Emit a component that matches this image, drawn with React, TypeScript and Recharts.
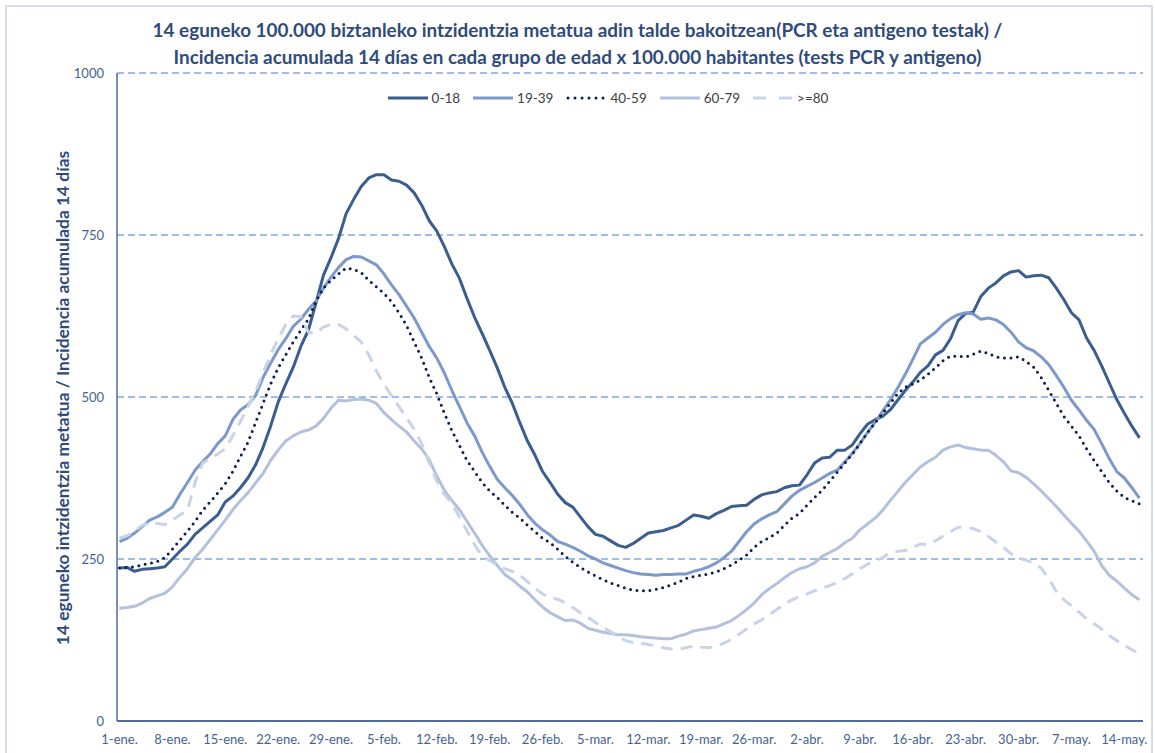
import React from "react";
import { LineChart, Line, XAxis, YAxis, CartesianGrid } from "recharts";

// daily 14-day incidence per 100.000, 1-ene. .. 16-may. (136 days)
const TICK_DAYS = [0, 7, 14, 21, 28, 35, 42, 49, 56, 63, 70, 77, 84, 91, 98, 105, 112, 119, 126, 133];
const TICK_LABELS = [
  "1-ene.", "8-ene.", "15-ene.", "22-ene.", "29-ene.", "5-feb.", "12-feb.", "19-feb.", "26-feb.", "5-mar.",
  "12-mar.", "19-mar.", "26-mar.", "2-abr.", "9-abr.", "16-abr.", "23-abr.", "30-abr.", "7-may.", "14-may.",
];

const AGE_0_18 = [
  236, 237, 231, 234, 235, 236, 238, 250, 262, 273, 288, 298, 308, 318, 338, 347, 360, 375, 395, 422,
  455, 492, 520, 546, 578, 603, 645, 688, 715, 745, 783, 805, 825, 838, 843, 843, 835, 833, 827, 815,
  796, 772, 756, 732, 705, 683, 652, 623, 598, 572, 545, 515, 490, 460, 432, 410, 385, 368, 350, 337,
  330, 315, 300, 288, 285, 278, 271, 268, 274, 282, 290, 292, 294, 298, 302, 310, 318, 316, 313, 320,
  325, 331, 332, 333, 342, 349, 352, 354, 360, 363, 364, 380, 398, 406, 407, 418, 418, 426, 443, 458,
  465, 470, 480, 495, 510, 523, 538, 548, 565, 572, 590, 618, 629, 631, 655, 668, 676, 687, 693, 695,
  685, 687, 688, 684, 668, 650, 630, 619, 591, 572, 548, 522, 496, 475, 455, 437,
];

const AGE_19_39 = [
  277, 282, 290, 300, 310, 315, 322, 330, 350, 368, 387, 400, 412, 428, 440, 465, 480, 488, 502, 530,
  552, 573, 590, 609, 620, 635, 648, 668, 685, 700, 712, 717, 716, 710, 704, 690, 673, 658, 640, 622,
  600, 578, 560, 537, 510, 485, 460, 440, 415, 393, 373, 360, 348, 334, 318, 305, 295, 287, 277, 273,
  268, 262, 255, 250, 244, 240, 236, 232, 229, 227, 226, 225, 226, 226, 227, 227, 231, 234, 238, 244,
  252, 262, 277, 292, 304, 312, 318, 323, 335, 347, 356, 362, 368, 375, 382, 387, 400, 413, 428, 445,
  461, 478, 495, 514, 535, 558, 582, 591, 600, 612, 621, 627, 630, 628, 620, 622, 619, 612, 600, 585,
  576, 571, 562, 550, 533, 515, 495, 480, 464, 450, 428, 405, 385, 375, 360, 344,
];

const AGE_40_59 = [
  236, 237, 238, 241, 243, 246, 252, 265, 279, 293, 308, 325, 338, 352, 366, 385, 408, 430, 460, 490,
  520, 545, 565, 585, 603, 620, 648, 668, 680, 690, 699, 697, 692, 680, 670, 660, 647, 630, 610, 585,
  560, 530, 505, 475, 448, 425, 402, 385, 368, 355, 345, 333, 322, 313, 302, 292, 282, 275, 265, 254,
  245, 237, 230, 224, 218, 213, 209, 205, 202, 201, 201, 203, 206, 210, 214, 220, 223, 225, 227, 230,
  235, 241, 248, 256, 268, 277, 283, 290, 302, 313, 320, 333, 345, 356, 370, 384, 398, 412, 428, 445,
  460, 475, 490, 505, 515, 520, 526, 535, 545, 556, 563, 563, 562, 566, 571, 567, 562, 560, 560, 562,
  555, 546, 530, 510, 490, 470, 455, 440, 420, 402, 385, 368, 355, 345, 340, 335,
];

const AGE_60_79 = [
  174, 175, 177, 182, 189, 193, 197, 207, 222, 235, 252, 265, 280, 295, 310, 326, 340, 352, 367, 382,
  402, 418, 432, 440, 446, 449, 455, 467, 483, 495, 494, 496, 497, 495, 490, 476, 465, 455, 446, 432,
  420, 403, 378, 356, 340, 326, 308, 290, 271, 255, 240, 226, 218, 208, 199, 187, 176, 167, 161, 155,
  156, 151, 143, 140, 137, 135, 133, 133, 132, 130, 129, 128, 127, 127, 131, 134, 139, 141, 143, 145,
  150, 155, 163, 172, 182, 195, 204, 212, 221, 229, 235, 238, 244, 254, 260, 266, 275, 282, 295, 304,
  313, 325, 340, 354, 368, 380, 392, 400, 407, 418, 423, 426, 422, 420, 418, 418, 410, 400, 386, 383,
  376, 366, 355, 343, 331, 318, 305, 293, 278, 262, 240, 225, 216, 205, 195, 187,
];

const AGE_80 = [
  282, 286, 293, 302, 306, 305, 303, 310, 318, 325, 368, 398, 405, 412, 420, 440, 462, 485, 508, 537,
  565, 590, 612, 625, 624, 600, 598, 608, 612, 612, 605, 595, 585, 565, 540, 520, 502, 485, 468, 450,
  428, 398, 370, 350, 335, 315, 293, 272, 254, 248, 240, 235, 231, 225, 215, 205, 196, 190, 188, 182,
  175, 167, 160, 152, 144, 138, 130, 124, 121, 120, 118, 116, 113, 111, 111, 113, 116, 114, 113, 116,
  120, 126, 134, 142, 150, 156, 164, 172, 180, 187, 192, 196, 201, 205, 209, 214, 220, 227, 235, 242,
  247, 252, 260, 262, 263, 268, 273, 272, 278, 285, 292, 299, 299, 297, 292, 285, 276, 268, 258, 252,
  248, 244, 236, 220, 200, 187, 178, 168, 158, 150, 142, 132, 124, 117, 110, 104,
];

const SERIES = [
  { key: "a0", name: "0-18", values: AGE_0_18, color: "#3A5F8F", dash: undefined, cap: "butt" },
  { key: "a19", name: "19-39", values: AGE_19_39, color: "#7D99C9", dash: undefined, cap: "butt" },
  { key: "a40", name: "40-59", values: AGE_40_59, color: "#0C1F50", dash: "0 6.5", cap: "round" },
  { key: "a60", name: "60-79", values: AGE_60_79, color: "#B3C1DD", dash: undefined, cap: "butt" },
  { key: "a80", name: ">=80", values: AGE_80, color: "#C9D3E7", dash: "12 8", cap: "butt" },
];

const data = AGE_0_18.map((_, i) => {
  const row: any = { day: i };
  SERIES.forEach((s) => (row[s.key] = s.values[i]));
  return row;
});

const FONT = "Lato, 'Open Sans', sans-serif";
const TITLE_COLOR = "#2F4B7C";

const LegendBox = () => (
  <div
    style={{
      position: "absolute",
      left: 0,
      top: 89,
      width: 1155,
      display: "flex",
      justifyContent: "center",
      fontSize: 13.5,
      color: "#404040",
      paddingLeft: 72,
      boxSizing: "border-box",
    }}
  >
    {SERIES.map((s) => (
      <div key={s.key} style={{ display: "flex", alignItems: "center", marginRight: 12, height: 18 }}>
        <svg width={42} height={10}>
          <line
            x1={s.dash === "0 6.5" ? 3 : 1}
            y1={5}
            x2={41}
            y2={5}
            stroke={s.color}
            strokeWidth={3}
            strokeDasharray={s.dash === "0 6.5" ? "0 7" : s.dash ? "13 13" : undefined}
            strokeLinecap={s.cap as any}
          />
        </svg>
        <span style={{ marginLeft: 3 }}>{s.name}</span>
      </div>
    ))}
  </div>
);

export default function App() {
  return (
    <div style={{ position: "absolute", left: 0, top: 0, width: 1155, height: 753, background: "#fff", fontFamily: FONT, overflow: "hidden" }}>
      <div style={{ position: "absolute", left: 5, top: 5, width: 1148, height: 760, border: "2px solid #D5DEEE", boxSizing: "border-box" }} />
      <div style={{ position: "absolute", left: 0, top: 16, width: 1155, textAlign: "center", color: TITLE_COLOR, fontWeight: 700, fontSize: 18.9, lineHeight: "27px" }}>
        <div>14 eguneko 100.000 biztanleko intzidentzia metatua adin talde bakoitzean(PCR eta antigeno testak) /</div>
        <div>Incidencia acumulada 14 días en cada grupo de edad x 100.000 habitantes (tests PCR y antigeno)</div>
      </div>
      <div
        style={{
          position: "absolute",
          left: 62,
          top: 398,
          transform: "translate(-50%, -50%) rotate(-90deg)",
          whiteSpace: "nowrap",
          color: TITLE_COLOR,
          fontWeight: 700,
          fontSize: 17.4,
        }}
      >
        14 eguneko intzidentzia metatua / Incidencia acumulada 14 días
      </div>
      <div style={{ position: "absolute", left: 0, top: 0 }}>
        <LineChart width={1155} height={753} data={data} margin={{ top: 73, right: 12, left: 0, bottom: 0 }}>
          <CartesianGrid vertical={false} stroke="#3F7FD0" strokeDasharray="7 4" strokeWidth={1} />
          <XAxis
            type="number"
            dataKey="day"
            domain={[-0.33, 135.47]}
            ticks={TICK_DAYS}
            interval={0}
            tickFormatter={(v: number) => TICK_LABELS[TICK_DAYS.indexOf(v)]}
            height={32}
            tickLine={false}
            tickSize={0}
            tickMargin={14}
            axisLine={{ stroke: "#4C6C9C", strokeWidth: 2 }}
            tick={{ fill: "#44638F", fontSize: 13, fontFamily: FONT }}
            allowDataOverflow
          />
          <YAxis
            domain={[0, 1000]}
            ticks={[0, 250, 500, 750, 1000]}
            width={117}
            tickLine={false}
            tickSize={0}
            tickMargin={13}
            axisLine={{ stroke: "#4C6C9C", strokeWidth: 1.5 }}
            tick={{ fill: "#44638F", fontSize: 13, fontFamily: FONT }}
          />
          {SERIES.map((s) => (
            <Line
              key={s.key}
              type="linear"
              dataKey={s.key}
              name={s.name}
              stroke={s.color}
              strokeWidth={3}
              strokeDasharray={s.dash}
              strokeLinecap={s.cap as any}
              strokeLinejoin="round"
              dot={false}
              activeDot={false}
              isAnimationActive={false}
            />
          ))}
        </LineChart>
      </div>
      <LegendBox />
    </div>
  );
}
